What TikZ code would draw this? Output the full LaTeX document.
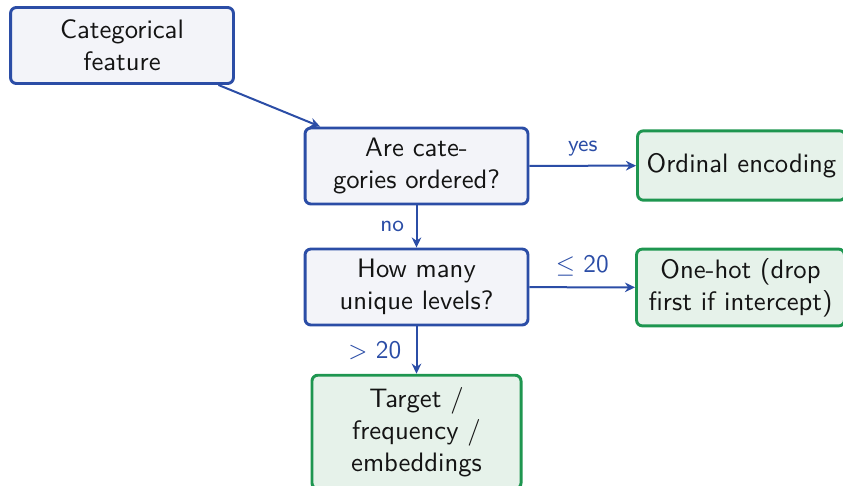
\documentclass[tikz,border=0pt]{standalone}
\usetikzlibrary{arrows.meta}
\definecolor{qblue}{HTML}{2B4DA6}
\definecolor{qfill}{HTML}{F3F4F9}
\definecolor{agreen}{HTML}{1E9650}
\definecolor{afill}{HTML}{E6F2EA}
\definecolor{ink}{HTML}{141414}
\begin{document}
\begin{tikzpicture}[x=0.375pt, y=-0.375pt,
  font=\sffamily, text=ink,
  question/.style={draw=qblue, fill=qfill, line width=1.1pt, rounded corners=2.2pt,
    align=center, inner sep=0pt, minimum width=83.6pt, minimum height=28.5pt},
  answer/.style={draw=agreen, fill=afill, line width=1.1pt, rounded corners=2.2pt,
    align=center, inner sep=0pt, minimum height=26pt},
  flow/.style={draw=qblue, line width=0.75pt, -{Stealth[length=3.8pt,width=3.6pt]}},
  tag/.style={text=qblue, font=\sffamily\fontsize{8.5}{10}\selectfont},
  bigtag/.style={tag, font=\sffamily\fontsize{9.5}{11}\selectfont}]
  \useasboundingbox (0,0) rectangle (843,485);

  % decision boxes
  \node[question] (cat) at (122,45.5) {Categorical\\feature};
  \node[question] (ord) at (416.5,166) {Are cate-\\gories ordered?};
  \node[question] (lev) at (416.5,287) {How many\\unique levels?};

  % outcomes
  \node[answer, minimum width=78pt] (ordenc) at (741.5,165.5) {Ordinal encoding};
  \node[answer, minimum width=78pt, minimum height=28.8pt] (onehot) at (740.5,287.5) {One-hot (drop\\first if intercept)};
  \node[answer, minimum width=78.4pt, minimum height=42.6pt] (target) at (416.5,432) {Target /\\frequency /\\embeddings};

  % connectors
  \draw[flow] (cat) -- (ord);
  \draw[flow] (ord) -- node[tag, above=0pt] {yes} (ordenc);
  \draw[flow] (ord) -- node[tag, left=1pt, pos=0.5] {no} (lev);
  \draw[flow] (lev) -- node[bigtag, above=0.6pt] {$\leq$ 20} (onehot);
  \draw[flow] (lev) -- node[bigtag, left=2pt, pos=0.5] {$>$ 20} (target);
\end{tikzpicture}
\end{document}
